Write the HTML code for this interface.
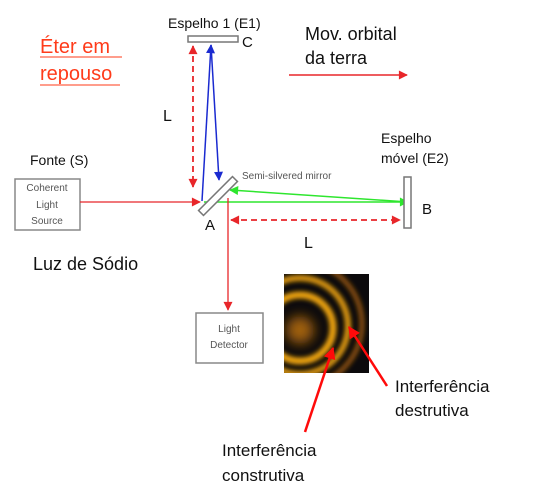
<!DOCTYPE html>
<html><head><meta charset="utf-8"><style>
html,body{margin:0;padding:0;background:#fff;}
svg{display:block;font-family:"Liberation Sans",sans-serif;}
</style></head><body>
<svg width="536" height="497" viewBox="0 0 536 497" xmlns="http://www.w3.org/2000/svg">
<defs>
<marker id="ar" viewBox="0 0 10 10" refX="9" refY="5" markerUnits="userSpaceOnUse" markerWidth="10" markerHeight="9" orient="auto-start-reverse"><path d="M0,0L10,5L0,10z" fill="#e8262a"/></marker>
<marker id="ar2" viewBox="0 0 10 10" refX="9" refY="5" markerUnits="userSpaceOnUse" markerWidth="14" markerHeight="12" orient="auto-start-reverse"><path d="M0,0L10,5L0,10z" fill="#ff0a0a"/></marker>
<marker id="ab" viewBox="0 0 10 10" refX="9" refY="5" markerUnits="userSpaceOnUse" markerWidth="10" markerHeight="9" orient="auto-start-reverse"><path d="M0,0L10,5L0,10z" fill="#1a2ad0"/></marker>
<marker id="ag" viewBox="0 0 10 10" refX="9" refY="5" markerUnits="userSpaceOnUse" markerWidth="10" markerHeight="9" orient="auto-start-reverse"><path d="M0,0L10,5L0,10z" fill="#2ee62e"/></marker>
<clipPath id="cp"><rect x="284" y="274" width="85" height="99"/></clipPath>
<filter id="bl" x="-50%" y="-50%" width="200%" height="200%"><feGaussianBlur stdDeviation="2.5"/></filter>
<filter id="bl2" x="-100%" y="-100%" width="300%" height="300%"><feGaussianBlur stdDeviation="6"/></filter>
</defs>
<text x="168" y="28" font-size="14" fill="#111">Espelho 1 (E1)</text>
<rect x="188" y="36" width="50" height="6" fill="#fff" stroke="#777" stroke-width="1.5"/>
<text x="242" y="47" font-size="15" fill="#111">C</text>
<text x="40" y="53" font-size="20" fill="#ff3b1a">Éter em</text>
<line x1="40" y1="57" x2="122" y2="57" stroke="#ff3b1a" stroke-width="1"/>
<text x="40" y="80" font-size="20" fill="#ff3b1a">repouso</text>
<line x1="40" y1="85" x2="120" y2="85" stroke="#ff3b1a" stroke-width="1"/>
<text x="305" y="40" font-size="18" fill="#111">Mov. orbital</text>
<text x="305" y="64" font-size="18" fill="#111">da terra</text>
<line x1="289" y1="75" x2="407" y2="75" stroke="#e8262a" stroke-width="1.5" marker-end="url(#ar)"/>
<text x="163" y="121" font-size="16" fill="#111">L</text>
<line x1="193" y1="46" x2="193" y2="187" stroke="#e8262a" stroke-width="1.8" stroke-dasharray="6,4" marker-start="url(#ar)" marker-end="url(#ar)"/>
<line x1="202" y1="201" x2="211" y2="45" stroke="#1a2ad0" stroke-width="1.5" marker-end="url(#ab)"/>
<line x1="211" y1="45" x2="219" y2="180" stroke="#1a2ad0" stroke-width="1.5" marker-end="url(#ab)"/>
<text x="30" y="165" font-size="14" fill="#111">Fonte (S)</text>
<rect x="15" y="179" width="65" height="51" fill="#fff" stroke="#888" stroke-width="1.5"/>
<text font-size="10" fill="#555" text-anchor="middle"><tspan x="47" y="191">Coherent</tspan><tspan x="47" y="208">Light</tspan><tspan x="47" y="224">Source</tspan></text>
<line x1="80" y1="202" x2="200" y2="202" stroke="#e8262a" stroke-width="1.3" marker-end="url(#ar)"/>
<line x1="204" y1="202" x2="408" y2="202" stroke="#2ee62e" stroke-width="1.5" marker-end="url(#ag)"/>
<line x1="408" y1="202" x2="230" y2="190" stroke="#2ee62e" stroke-width="1.5" marker-end="url(#ag)"/>
<g transform="translate(218,196) rotate(-45)"><rect x="-24" y="-3.5" width="48" height="7" fill="#fff" stroke="#777" stroke-width="1.5"/></g>
<text x="242" y="179" font-size="10" fill="#555">Semi-silvered mirror</text>
<text x="381" y="143" font-size="14" fill="#111">Espelho</text>
<text x="381" y="163" font-size="14" fill="#111">móvel (E2)</text>
<rect x="404" y="177" width="7" height="51" fill="#fff" stroke="#777" stroke-width="1.5"/>
<text x="422" y="214" font-size="15" fill="#111">B</text>
<text x="205" y="230" font-size="15" fill="#111">A</text>
<line x1="231" y1="220" x2="400" y2="220" stroke="#e8262a" stroke-width="1.8" stroke-dasharray="6,4" marker-start="url(#ar)" marker-end="url(#ar)"/>
<text x="304" y="248" font-size="16" fill="#111">L</text>
<line x1="228" y1="198" x2="228" y2="310" stroke="#e8262a" stroke-width="1.3" marker-end="url(#ar)"/>
<text x="33" y="270" font-size="18" fill="#111">Luz de Sódio</text>
<rect x="196" y="313" width="67" height="50" fill="#fff" stroke="#888" stroke-width="1.5"/>
<text font-size="10" fill="#555" text-anchor="middle"><tspan x="229" y="332">Light</tspan><tspan x="229" y="348">Detector</tspan></text>
<rect x="284" y="274" width="85" height="99" fill="#0c0a0c"/>
<g clip-path="url(#cp)">
<circle cx="300" cy="330" r="14" fill="#a0600a" filter="url(#bl2)"/>
<circle cx="300" cy="328" r="33" fill="none" stroke="#f0a510" stroke-width="7" filter="url(#bl)"/>
<circle cx="300" cy="326" r="48" fill="none" stroke="#e09a10" stroke-width="6" filter="url(#bl)"/>
<circle cx="300" cy="324" r="62" fill="none" stroke="#8a5010" stroke-width="5" filter="url(#bl)"/>
</g>
<line x1="305" y1="432" x2="333" y2="348" stroke="#ff0a0a" stroke-width="2.5" marker-end="url(#ar2)"/>
<line x1="387" y1="386" x2="349" y2="327" stroke="#ff0a0a" stroke-width="2.5" marker-end="url(#ar2)"/>
<text x="395" y="392" font-size="17" fill="#111">Interferência</text>
<text x="395" y="416" font-size="17" fill="#111">destrutiva</text>
<text x="222" y="456" font-size="17" fill="#111">Interferência</text>
<text x="222" y="481" font-size="17" fill="#111">construtiva</text>
</svg>
</body></html>
